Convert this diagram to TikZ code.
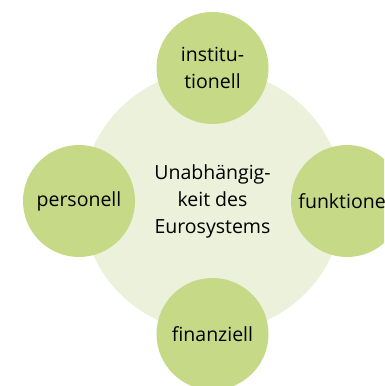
\documentclass[tikz,border=0pt]{standalone}
\usepackage{fontspec}
\setmainfont{Open Sans}
\definecolor{petal}{RGB}{197,217,134}
\definecolor{hub}{RGB}{235,241,218}
\begin{document}
\begin{tikzpicture}[x=1pt,y=1pt,
  hubcirc/.style={circle,fill=hub,minimum size=262pt,inner sep=0pt},
  petalcirc/.style={circle,fill=petal,minimum size=112pt,inner sep=0pt},
  lbl/.style={font=\fontsize{19.5}{27}\selectfont,align=center,text=black}]
\useasboundingbox (0,0) rectangle (384,386);
\clip (0,0) rectangle (384,386);
\node[hubcirc] (hub) at (212.5,185) {};
\node[petalcirc] (top) at (212.5,318) {};
\node[petalcirc] (left) at (79,185) {};
\node[petalcirc] (right) at (347,185) {};
\node[petalcirc] (bottom) at (212.5,52) {};
\node[lbl] (hubtext) at (hub.center) {Unabhängig-\\keit des\\Eurosystems};
\node[lbl] (toptext) at (top.center) {institu-\\tionell};
\node[lbl] (lefttext) at (left.center) {personell};
\node[lbl] (righttext) at (right.center) {funktionell};
\node[lbl] (bottomtext) at (bottom.center) {finanziell};
\end{tikzpicture}
\end{document}
